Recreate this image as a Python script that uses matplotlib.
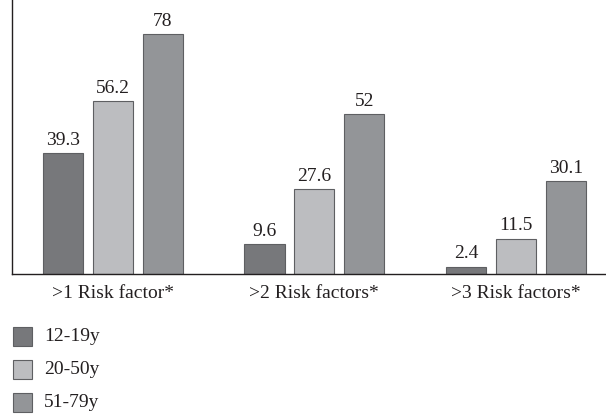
import matplotlib
matplotlib.use("Agg")
import matplotlib.pyplot as plt
import numpy as np
from matplotlib.patches import Rectangle

categories = [">1 Risk factor*", ">2 Risk factors*", ">3 Risk factors*"]
series_names = ["12-19y", "20-50y", "51-79y"]
v_12_19 = [39.3, 9.6, 2.4]
v_20_50 = [56.2, 27.6, 11.5]
v_51_79 = [78, 52, 30.1]
labels_12_19 = ["39.3", "9.6", "2.4"]
labels_20_50 = ["56.2", "27.6", "11.5"]
labels_51_79 = ["78", "52", "30.1"]

colors = ["#77787b", "#bcbdc0", "#939598"]
edge = "#5e5f62"
txt = "#231f20"
fs = 14

plt.rcParams['font.family'] = ['Liberation Serif', 'DejaVu Serif']

fig = plt.figure(figsize=(6.06, 4.15), dpi=100)
ax = fig.add_axes([12/606, 141/415, 594/606, 274/415])

x = np.arange(len(categories))
width = 0.2
step = 0.248
all_vals = [v_12_19, v_20_50, v_51_79]
all_labels = [labels_12_19, labels_20_50, labels_51_79]
for i, (vals, labs) in enumerate(zip(all_vals, all_labels)):
    pos = x + (i - 1) * step
    bars = ax.bar(pos, vals, width, color=colors[i], edgecolor=edge, linewidth=0.8)
    for b, lab in zip(bars, labs):
        ax.annotate(lab, (b.get_x() + b.get_width()/2, b.get_height()),
                    xytext=(0, 3), textcoords='offset points',
                    ha='center', va='bottom', fontsize=fs, color=txt)

ax.set_xlim(-0.5, 2.447)
ax.set_ylim(0, 89)
ax.set_yticks([])
ax.set_xticks(x)
ax.set_xticklabels(categories, fontsize=fs, color=txt)
ax.tick_params(axis='x', length=0, pad=8)
for s in ['top', 'right']:
    ax.spines[s].set_visible(False)
for s in ['left', 'bottom']:
    ax.spines[s].set_color(txt)
    ax.spines[s].set_linewidth(1.0)

# legend (manual, figure pixel coordinates)
W, H = 606, 415
centers = [336, 369, 402]
for c, name, yc in zip(colors, series_names, centers):
    fig.add_artist(Rectangle((13/W, 1 - (yc + 9.5)/H), 19/W, 19/H,
                             transform=fig.transFigure, facecolor=c,
                             edgecolor=edge, linewidth=0.8))
    fig.text(44/W, 1 - yc/H, name, ha='left', va='center', fontsize=fs, color=txt)

fig.savefig("out.png", dpi=100)
